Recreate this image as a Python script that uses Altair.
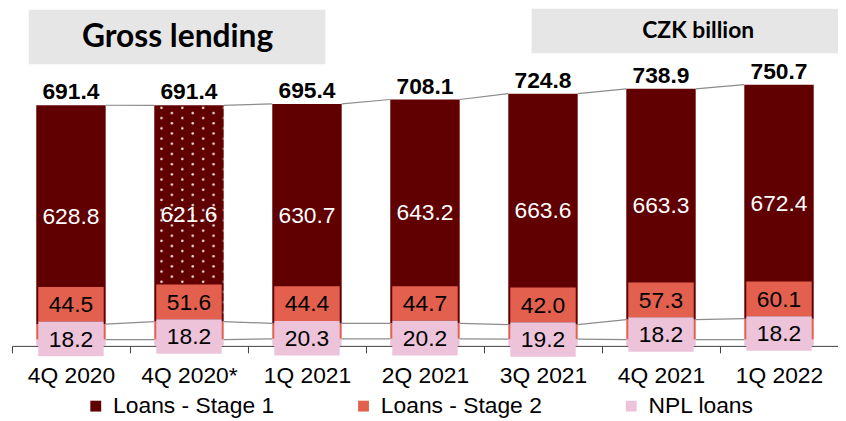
import base64
import altair as alt
import pandas as pd

quarters = ["4Q 2020", "4Q 2020*", "1Q 2021", "2Q 2021", "3Q 2021", "4Q 2021", "1Q 2022"]
stage1 = [628.8, 621.6, 630.7, 643.2, 663.6, 663.3, 672.4]
stage2 = [44.5, 51.6, 44.4, 44.7, 42.0, 57.3, 60.1]
npl = [18.2, 18.2, 20.3, 20.2, 19.2, 18.2, 18.2]
totals = [691.4, 691.4, 695.4, 708.1, 724.8, 738.9, 750.7]
patterned = [False, True, False, False, False, False, False]
series = ["Loans - Stage 1", "Loans - Stage 2", "NPL loans"]
colors = ["#600000", "#E3604F", "#EDC3D9"]
titles = ["Gross lending", "CZK billion"]

FONT = "Liberation Sans"

seg_rows = []
lab_rows = []
for i, q in enumerate(quarters):
    top_npl = npl[i]
    top2 = npl[i] + stage2[i]
    hi = top2 + stage1[i]
    seg_rows.append(dict(q=q, s=series[2], lo=0, hi=top_npl))
    seg_rows.append(dict(q=q, s=series[1], lo=top_npl, hi=top2))
    seg_rows.append(dict(q=q, s=series[0], lo=top2, hi=hi))
    lab_rows.append(dict(q=q, s1=f"{stage1[i]:.1f}", s2=f"{stage2[i]:.1f}", n=f"{npl[i]:.1f}",
                         tot=f"{totals[i]:.1f}", npl=top_npl, top2=top2, hi=hi,
                         mid1=(top2 + hi) / 2, pat=patterned[i]))
seg = pd.DataFrame(seg_rows)
lab = pd.DataFrame(lab_rows)

# connector lines: each joins the right edge of one bar (side=+1) to the left edge of the next (side=-1)
con_rows = []
for i in range(len(quarters) - 1):
    for key in ["hi", "top2", "npl"]:
        sid = f"{key}-{i}"
        con_rows.append(dict(sid=sid, q=quarters[i], v=lab_rows[i][key], side=1))
        con_rows.append(dict(sid=sid, q=quarters[i + 1], v=lab_rows[i + 1][key], side=-1))
con = pd.DataFrame(con_rows)

xenc = alt.X("q:N", sort=quarters,
             scale=alt.Scale(domain=quarters, paddingInner=0, paddingOuter=0),
             axis=alt.Axis(title=None, labelAngle=0, labelFont=FONT, labelFontSize=23,
                           labelColor="#000000", labelPadding=12, tickBand="extent",
                           tickSize=7, tickColor="#404040", domainColor="#404040",
                           labelOverlap=False))
yscale = alt.Scale(domain=[0, 966], nice=False, zero=True)


def Y(field):
    return alt.Y(field, scale=yscale, axis=None)


bars = alt.Chart(seg).mark_bar(width=70).encode(
    x=xenc,
    y=Y("hi:Q"),
    y2="lo:Q",
    color=alt.Color("s:N", scale=alt.Scale(domain=series, range=colors),
                    legend=alt.Legend(title=None, orient="none", legendX=73, legendY=388,
                                      direction="horizontal", columns=3, gridAlign="all",
                                      columnPadding=78, symbolType="square", symbolSize=120,
                                      symbolStrokeWidth=0, labelFont=FONT, labelFontSize=23,
                                      labelColor="#000000", labelOffset=6, labelLimit=0)),
)

# dotted texture for the restated 4Q 2020* bar
pattern_svg = (
    '<svg xmlns="http://www.w3.org/2000/svg" width="70" height="220" viewBox="0 0 70 220" '
    'preserveAspectRatio="none">'
    '<defs><pattern id="p" x="0" y="0" width="21" height="10.4" patternUnits="userSpaceOnUse">'
    '<circle cx="7.3" cy="2.7" r="1.3" fill="#f3e2e2"/>'
    '<circle cx="17.8" cy="7.9" r="1.3" fill="#f3e2e2"/></pattern></defs>'
    '<rect width="70" height="220" fill="url(#p)"/></svg>'
)
pattern_url = "data:image/svg+xml;base64," + base64.b64encode(pattern_svg.encode()).decode()

dots = alt.Chart(lab).transform_filter("datum.pat").mark_image(width=70, aspect=False).encode(
    x=xenc,
    y=Y("hi:Q"),
    y2="top2:Q",
    url=alt.value(pattern_url),
)

connectors = alt.Chart(con).mark_line(color="#8c8c8c", strokeWidth=1.2).encode(
    x=xenc,
    xOffset=alt.XOffset("side:Q", scale=alt.Scale(domain=[-1, 1], range=[24.5, 94.5])),
    y=Y("v:Q"),
    detail="sid:N",
)

box_shape = "M-1,-0.53L1,-0.53L1,0.53L-1,0.53Z"
box2 = alt.Chart(lab).mark_point(shape=box_shape, size=66 * 66, filled=True, opacity=1,
                                 strokeWidth=0, color=colors[1], yOffset=-20).encode(
    x=xenc, y=Y("top2:Q"))
boxn = alt.Chart(lab).mark_point(shape=box_shape, size=66 * 66, filled=True, opacity=1,
                                 strokeWidth=0, color=colors[2], yOffset=15).encode(
    x=xenc, y=Y("top2:Q"))

txt2 = alt.Chart(lab).mark_text(font=FONT, fontSize=23, color="#000000", baseline="middle",
                                yOffset=-19).encode(x=xenc, y=Y("top2:Q"), text="s2:N")
txtn = alt.Chart(lab).mark_text(font=FONT, fontSize=23, color="#000000", baseline="middle",
                                yOffset=16).encode(x=xenc, y=Y("top2:Q"), text="n:N")
txt1 = alt.Chart(lab).mark_text(font=FONT, fontSize=23, color="#ffffff", baseline="middle",
                                yOffset=2).encode(x=xenc, y=Y("mid1:Q"), text="s1:N")
txtt = alt.Chart(lab).mark_text(font=FONT, fontSize=23, fontWeight="bold", color="#000000",
                                baseline="alphabetic", yOffset=-6).encode(
    x=xenc, y=Y("hi:Q"), text="tot:N")

tdf = pd.DataFrame({"t": titles})
box_t1 = alt.Chart(tdf).transform_filter(f"datum.t == '{titles[0]}'").mark_rect(color="#E6E6E6").encode(
    x=alt.value(17), x2=alt.value(316), y=alt.value(0), y2=alt.value(55))
box_t2 = alt.Chart(tdf).transform_filter(f"datum.t == '{titles[1]}'").mark_rect(color="#E6E6E6").encode(
    x=alt.value(524), x2=alt.value(840), y=alt.value(-1), y2=alt.value(44))
t1 = alt.Chart(tdf).transform_filter(f"datum.t == '{titles[0]}'").mark_text(
    font="Lato", fontSize=32, fontWeight="bold", color="#000000", baseline="middle").encode(
    x=alt.value(167), y=alt.value(28), text="t:N")
t2 = alt.Chart(tdf).transform_filter(f"datum.t == '{titles[1]}'").mark_text(
    font="Lato", fontSize=23, fontWeight="bold", color="#000000", baseline="middle").encode(
    x=alt.value(692), y=alt.value(22), text="t:N")

chart = alt.layer(
    box_t1, box_t2, t1, t2, bars, dots, connectors, box2, boxn, txt2, txtn, txt1, txtt
).properties(
    width=833, height=339,
    autosize=alt.AutoSizeParams(type="none"),
    padding={"left": 4, "top": 0, "right": 0, "bottom": 74},
).configure_view(stroke=None)

chart.save("out.html", embed_options={"renderer": "svg", "actions": False})
